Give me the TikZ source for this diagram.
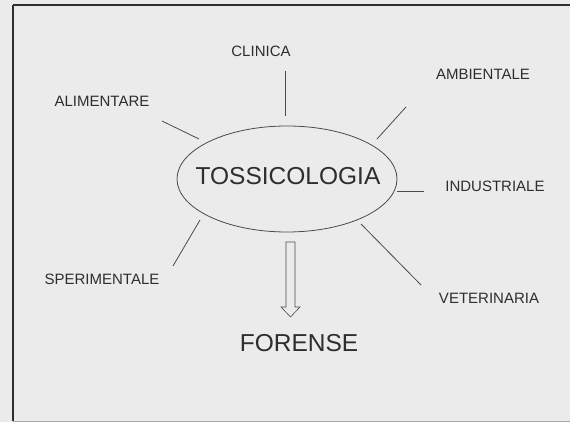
\documentclass[tikz,border=0pt]{standalone}
\usepackage{fontspec}
\setmainfont{Liberation Sans}
\usetikzlibrary{shapes.geometric}
\definecolor{bg}{HTML}{EBEBEB}
\definecolor{ink}{HTML}{2E2E2E}
\definecolor{lineink}{HTML}{4A4A4A}
\begin{document}
\begin{tikzpicture}[x=1pt,y=-1pt,
  lbl/.style={text=ink,inner sep=0pt,font=\fontsize{15}{15}\selectfont},
  big/.style={text=ink,inner sep=0pt,font=\fontsize{24.5}{24.5}\selectfont},
  spoke/.style={draw=lineink,line width=0.8pt},
  frameline/.style={draw=ink,line width=1.3pt}]
\useasboundingbox (0,0) rectangle (570,422);
\fill[bg] (0,0) rectangle (570,422);
% frame
\draw[frameline,line width=1.8pt] (13,5) -- (570,5);
\draw[frameline] (13,5) -- (13,421);
\draw[draw=gray!70,line width=1pt] (13,421) -- (570,421);
% central ellipse
\node[ellipse,draw=lineink,line width=0.8pt,minimum width=220pt,minimum height=106pt,inner sep=0pt] (tox) at (287,179) {};
\node[big] (toxt) at (288,176) {TOSSICOLOGIA};
% labels
\node[lbl] (clin) at (261,51) {CLINICA};
\node[lbl] (alim) at (102,101) {ALIMENTARE};
\node[lbl] (amb) at (483,74) {AMBIENTALE};
\node[lbl] (ind) at (495,186) {INDUSTRIALE};
\node[lbl] (sper) at (102,279) {SPERIMENTALE};
\node[lbl] (vet) at (489,298) {VETERINARIA};
\node[big] (for) at (299,343) {FORENSE};
% spoke ends
\coordinate (c1) at (285,71);  \coordinate (c2) at (285,116);
\coordinate (a1) at (162,121); \coordinate (a2) at (199,139);
\coordinate (m1) at (406,107); \coordinate (m2) at (377,139);
\coordinate (i1) at (424,191); \coordinate (i2) at (397,191);
\coordinate (s1) at (173,266); \coordinate (s2) at (200,220);
\coordinate (v1) at (421,285); \coordinate (v2) at (361,224);
\draw[spoke] (c1) -- (c2);
\draw[spoke] (a1) -- (a2);
\draw[spoke] (m1) -- (m2);
\draw[spoke] (i1) -- (i2);
\draw[spoke] (s1) -- (s2);
\draw[spoke] (v1) -- (v2);
% hollow arrow
\coordinate (arr) at (290.5,242);
\draw[draw=lineink,line width=0.6pt,line join=miter]
  ([shift={(-4.5,0)}]arr) -- ([shift={(4.5,0)}]arr) -- ([shift={(4.5,65)}]arr)
  -- ([shift={(9.5,65)}]arr) -- ([shift={(0,75)}]arr) -- ([shift={(-9.5,65)}]arr)
  -- ([shift={(-4.5,65)}]arr) -- cycle;
\end{tikzpicture}
\end{document}
